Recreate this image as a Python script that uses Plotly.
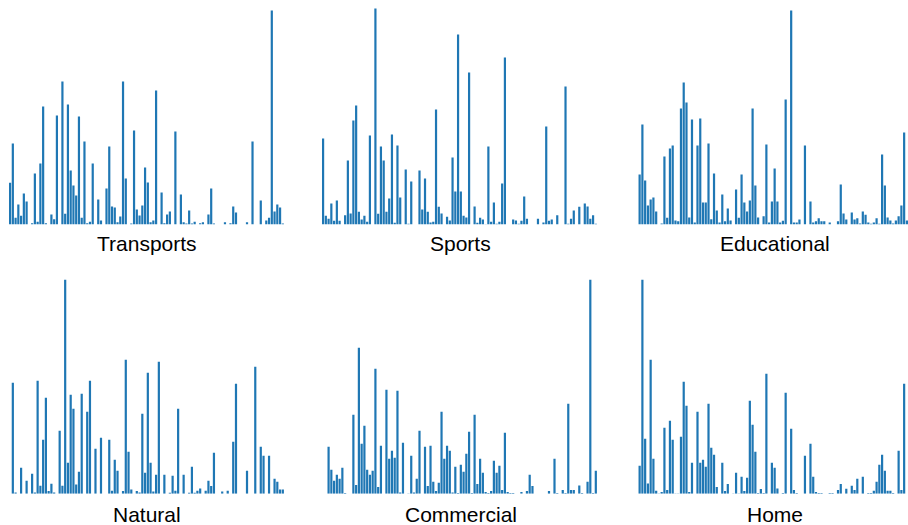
import plotly.graph_objects as go

categories = ["Transports", "Sports", "Educational", "Natural", "Commercial", "Home"]

transports = [41.7, 81, 6.7, 20, 8.7, 31, 23, 0, 1.3, 51,
              2.7, 61, 118, 1.3, 0, 10, 5.3, 109, 0, 143,
              10.7, 120, 54, 39, 29, 108, 6.7, 83, 1.3, 2.7,
              61, 0, 25, 4, 0, 36, 78, 18, 17, 2.3,
              8, 143, 46, 0, 1, 94, 15, 9, 19, 57,
              42, 2.3, 4, 134, 0, 32, 1.3, 10, 13, 0,
              93, 0, 30, 2.3, 1, 14, 1, 2.7, 0, 1.3,
              2.3, 0, 10, 36, 1, 0, 0, 0, 2.3, 0,
              1.3, 18, 12, 0, 0, 0, 2.3, 0, 83, 0,
              0, 24, 0, 4, 6.7, 214, 13, 20, 17, 1]

sports = [86, 8.7, 5.7, 21, 3.7, 24, 3.7, 0, 9.3, 64,
          11, 104, 119, 12.7, 5, 8.7, 2.7, 89, 0, 216,
          10.7, 78, 64, 12.7, 26, 90, 1.7, 79, 27, 0,
          55, 0.7, 43, 0, 0, 54, 15, 46, 12.7, 2,
          2.7, 115, 17.7, 11, 0, 7.7, 4, 67, 33, 190,
          33, 8.7, 7, 152, 0, 18, 1.7, 6.7, 5, 0.3,
          78, 2.7, 22, 0.7, 2.7, 41, 167, 0, 0, 5,
          4, 0.7, 3.7, 28, 5.7, 0, 0, 0, 5.7, 0,
          2, 98, 3.7, 5, 0, 9.3, 0, 0, 138, 0.7,
          5.7, 14, 0, 17.7, 0, 21, 18, 5.7, 9.3, 0.7]

educational = [0, 50, 100, 44, 19, 25, 27, 13, 0, 1,
               68, 6.7, 76, 79, 4, 3.3, 116, 142, 122, 7,
               105, 2, 79, 106, 22, 22, 81, 5.3, 51, 14,
               2, 30, 3.3, 16, 4, 0, 35, 6.7, 50, 22,
               13, 24, 116, 39, 7, 0, 8.3, 80, 2, 23,
               56, 23, 2, 3.7, 125, 0, 214, 2, 2, 5,
               0, 79, 0, 23, 2, 3.3, 6.3, 3.3, 3.3, 0,
               2, 0, 0, 3.3, 40, 11, 5, 0, 12, 5,
               6.3, 1, 13, 9.7, 2, 0.7, 2, 6.3, 0.7, 70,
               39, 7, 4, 1, 4, 8.3, 19, 92, 4, 0]

natural = [0, 111, 1.3, 0, 26, 0, 13, 0, 20, 1.3,
           113, 8, 54, 96, 2.7, 10, 1.3, 0, 63, 8,
           214, 31, 99, 85, 9.3, 22, 100, 0, 82, 113,
           0, 45, 0, 56, 0, 0, 54, 3, 34, 23,
           0, 2.7, 134, 42, 4.3, 0, 2.7, 1.3, 80, 21,
           121, 31, 2.3, 19, 132, 0, 19, 0, 1, 18,
           3, 85, 0, 19, 0, 1, 27, 1, 3, 5.3,
           0, 3, 13, 7.7, 41, 0, 0, 2.3, 0, 3,
           0, 52, 110, 0, 0, 0, 23, 0, 0, 127,
           0, 47, 38, 0, 38, 0, 15, 12, 4.3, 4.3]

commercial = [0, 0, 47, 24, 13, 19, 15, 26, 0.7, 0,
              0, 79, 8.7, 146, 50, 68, 24, 19, 23, 125,
              6.7, 48, 0, 104, 35, 43, 36, 103, 1.3, 51,
              0, 0.3, 38, 1.3, 15, 63, 0, 47, 7.7, 48,
              12, 2.7, 11, 82, 35, 48, 43, 1.3, 27, 0.7,
              29, 22, 40, 62, 0.7, 79, 9.7, 35, 21, 1.7,
              0.7, 2.7, 33, 21, 28, 3.7, 61, 1.7, 0.7, 0.7,
              0, 0, 1.7, 0, 2.7, 19, 7.7, 0, 0, 0,
              0, 0, 2.7, 0, 35, 0.7, 0, 3.7, 0.7, 90,
              3.7, 3.7, 0, 8.3, 0.7, 0, 12, 214, 0.7, 23]

home = [0, 28, 214, 55, 10.3, 134, 35, 3, 0.3, 1.7,
        66, 3.7, 73, 54, 0.3, 0.3, 57, 112, 88, 1.7,
        31, 0, 82, 31, 34, 27, 90, 46, 39, 6.7,
        0, 31, 2.7, 9.7, 0, 0.3, 21, 0.3, 17, 2.7,
        16, 93, 69, 42, 0.7, 4.7, 0.7, 120, 0, 31,
        26, 5.3, 0, 0.7, 101, 0, 65, 3.7, 0.7, 0,
        0, 38, 0, 50, 17, 1.7, 0.7, 0.7, 0, 0,
        0.7, 0.7, 0, 3.7, 9.7, 0, 5, 0, 8, 3.7,
        15, 0, 17, 0, 0.7, 0.7, 3, 12, 29, 39,
        23, 3, 3, 0.7, 0, 43, 3.7, 110, 0, 0]

series = [transports, sports, educational, natural, commercial, home]

W, H = 908, 525
BAR_COLOR = "#1f77b4"

# pixel geometry of the panels (window coordinates)
col_px = [(8.7, 284.2), (321.7, 597.2), (635.5, 908.0)]
col_range = [(-0.5, 99.5), (-0.5, 99.5), (-0.5, 98.4)]
title_x_px = [147.0, 460.5, 775.0]
row_px = [(8.0, 224.5), (277.2, 493.7)]
title_y_px = [243.5, 514.0]
y_top = 216.5

fig = go.Figure()
layout = {}
annotations = []
for i, (name, vals) in enumerate(zip(categories, series)):
    r, c = divmod(i, 3)
    n = i + 1
    xa = "x" if n == 1 else f"x{n}"
    ya = "y" if n == 1 else f"y{n}"
    fig.add_trace(go.Bar(
        x=list(range(len(vals))), y=vals, xaxis=xa, yaxis=ya,
        marker=dict(color=BAR_COLOR, line=dict(width=0)),
        width=0.8, showlegend=False, hoverinfo="skip"))
    x0, x1 = col_px[c]
    top, bottom = row_px[r]
    layout["xaxis" if n == 1 else f"xaxis{n}"] = dict(
        domain=[max(0, x0 / W), min(1, x1 / W)], range=list(col_range[c]), anchor=ya,
        visible=False, fixedrange=True)
    layout["yaxis" if n == 1 else f"yaxis{n}"] = dict(
        domain=[max(0, 1 - bottom / H), min(1, 1 - top / H)], range=[0, y_top], anchor=xa,
        visible=False, fixedrange=True)
    annotations.append(dict(
        text=name, xref="paper", yref="paper",
        x=title_x_px[c] / W, y=1 - title_y_px[r] / H,
        xanchor="center", yanchor="middle", showarrow=False,
        font=dict(family="Liberation Sans, Arial, sans-serif", size=21, color="#000000")))

fig.update_layout(
    width=W, height=H,
    margin=dict(l=0, r=0, t=0, b=0),
    paper_bgcolor="white", plot_bgcolor="white",
    annotations=annotations,
    bargap=0.2,
    hovermode=False,
    **layout)

# remove the default page margin so the 908x525 figure fills the window exactly
fig.write_html(
    "out.html",
    config={"displayModeBar": False, "staticPlot": True},
    post_script="document.body.style.margin='0';document.body.style.overflow='hidden';")
